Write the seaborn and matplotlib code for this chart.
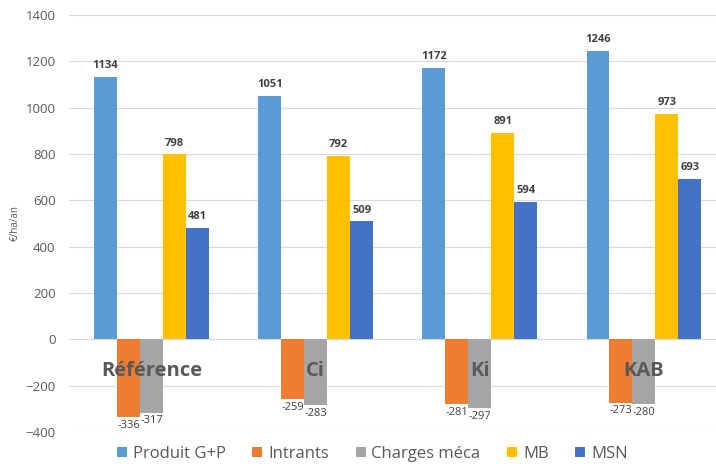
import seaborn as sns
import matplotlib.pyplot as plt
import pandas as pd

# Data
categories = ['Référence', 'Ci', 'Ki', 'KAB']
series = ['Produit G+P', 'Intrants', 'Charges méca', 'MB', 'MSN']
produit = [1134, 1051, 1172, 1246]
intrants = [-336, -259, -281, -273]
charges = [-317, -283, -297, -280]
mb = [798, 792, 891, 973]
msn = [481, 509, 594, 693]

colors = ['#5B9BD5', '#ED7D31', '#A5A5A5', '#FFC000', '#4472C4']

rows = []
for name, vals in zip(series, [produit, intrants, charges, mb, msn]):
    for cat, v in zip(categories, vals):
        rows.append({'Scenario': cat, 'Poste': name, 'Valeur': v})
df = pd.DataFrame(rows)

sns.set_style("white")
plt.rcParams['font.family'] = ['Open Sans', 'DejaVu Sans']

fig = plt.figure(figsize=(7.16, 4.70), dpi=100)
ax = fig.add_axes([0.097, 0.081, 0.917, 0.887])

sns.barplot(data=df, x='Scenario', y='Valeur', hue='Poste',
            order=categories, hue_order=series, palette=colors,
            width=0.7, saturation=1, linewidth=0, ax=ax, legend=True)

# data labels
for cont in ax.containers:
    vals = cont.datavalues
    if vals[0] >= 0:
        ax.bar_label(cont, labels=[f'{v:.0f}' for v in vals], padding=4,
                     fontsize=8, fontweight='bold', color='#404040')
    else:
        ax.bar_label(cont, labels=[f'{v:.0f}' for v in vals], padding=2,
                     fontsize=8, color='#404040')

# category names drawn inside the plot
for i, cat in enumerate(categories):
    ax.text(i, -138, cat, ha='center', va='center', fontsize=14.5,
            fontweight='bold', color='#595959')

ax.set_ylim(-400, 1400)
ax.set_yticks(range(-400, 1401, 200))
ax.set_xticks([])
ax.set_xlabel('')
ax.set_ylabel('€/ha/an', fontsize=7, color='#595959', labelpad=3)
ax.tick_params(axis='y', labelsize=9.5, labelcolor='#595959', length=0, pad=10)
ax.grid(True, axis='y', color='#D9D9D9', linewidth=0.8)
ax.set_axisbelow(True)
sns.despine(ax=ax, left=True, bottom=True)

handles, labels = ax.get_legend_handles_labels()
ax.get_legend().remove()
fig.legend(handles, labels, loc='lower center', bbox_to_anchor=(0.52, -0.015),
           ncol=5, frameon=False, fontsize=12, handlelength=0.6,
           handleheight=0.6, handletextpad=0.35, columnspacing=1.6,
           labelcolor='#595959')

plt.savefig('out.png', dpi=100)
